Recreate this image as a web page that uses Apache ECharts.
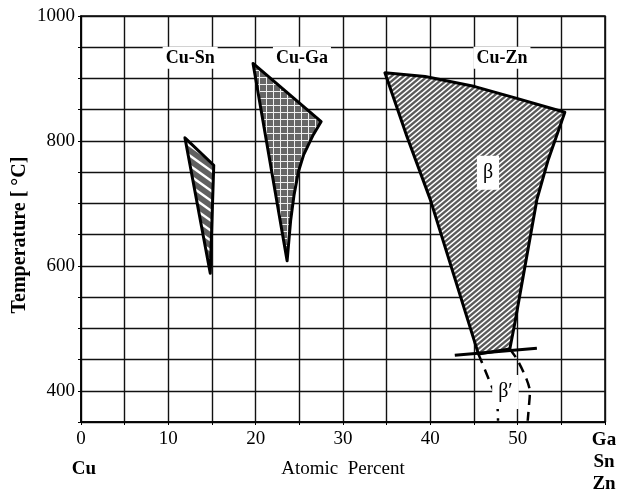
<!DOCTYPE html>
<html>
<head>
    <meta charset="UTF-8">
    <title>Cu-Sn / Cu-Ga / Cu-Zn</title>
    <script src="https://cdn.jsdelivr.net/npm/echarts@6/dist/echarts.min.js"></script>
    <style>
        html, body { margin: 0; padding: 0; background: #fff; }
        #chart { width: 620px; height: 491px; }
    </style>
</head>
<body>
<div id="chart"></div>
<script>
    // 相区边界 [原子百分比, 温度]
    var cuSn = [[11.9, 805], [15.2, 761], [14.8, 588]];
    var cuGa = [[19.7, 924], [27.5, 831], [26.6, 810], [25.5, 778], [24.9, 751],
        [24.4, 714], [24.0, 672], [23.6, 608]];
    var cuZn = [[34.8, 909], [39.4, 903], [45.1, 887], [49.7, 869], [55.4, 846],
        [53.5, 770], [52.2, 706], [49.7, 510], [49.1, 467], [45.5, 459],
        [40.0, 706], [37.3, 808]];
    var znBaseLine = [[42.8, 457], [52.2, 468]];
    var betaPrimeLeft = [[45.5, 459], [47.0, 408], [47.6, 387], [47.75, 352]];
    var betaPrimeRight = [[49.1, 467], [49.9, 451], [51.0, 419], [51.4, 398], [51.3, 377], [51.15, 352]];

    var regionNames = ['Cu-Sn', 'Cu-Ga', 'Cu-Zn'];
    var regionX = [12.5, 25.3, 48.2];
    var regionY = [933, 933, 933];
    var phaseNames = ['β', 'β′'];
    var phaseX = [46.6, 48.6];
    var phaseY = [749, 398];

    var xLabels = [0, 10, 20, 30, 40, 50];
    var yLabels = [400, 600, 800, 1000];

    var serif = '"Liberation Serif", "DejaVu Serif", serif';

    // 填充图案
    function makeStripes(w, h, down, base, lw) {
        var c = document.createElement('canvas');
        c.width = w; c.height = h;
        var ctx = c.getContext('2d');
        ctx.fillStyle = base;
        ctx.fillRect(0, 0, w, h);
        ctx.strokeStyle = '#fff';
        ctx.lineWidth = lw;
        for (var k = -1; k <= 1; k++) {
            ctx.beginPath();
            if (down) {
                ctx.moveTo(-1, k * h - h / w);
                ctx.lineTo(w + 1, k * h + h + h / w);
            } else {
                ctx.moveTo(-1, k * h + h + h / w);
                ctx.lineTo(w + 1, k * h - h / w);
            }
            ctx.stroke();
        }
        return {image: c, repeat: 'repeat'};
    }
    function makeGrid(size, base) {
        var c = document.createElement('canvas');
        c.width = size; c.height = size;
        var ctx = c.getContext('2d');
        ctx.fillStyle = base;
        ctx.fillRect(0, 0, size, size);
        ctx.fillStyle = '#f0f0f0';
        ctx.fillRect(0, 0, size, 1);
        ctx.fillRect(0, 0, 1, size);
        return {image: c, repeat: 'repeat'};
    }
    var snFill = makeStripes(14, 10, true, '#606060', 2.4);
    var gaFill = makeGrid(7, '#666666');
    var znFill = makeStripes(6, 5, false, '#5a5a5a', 1.5);

    function polygonItem(points, fill) {
        return function (params, api) {
            return {
                type: 'polygon',
                shape: {points: points.map(function (p) { return api.coord(p); })},
                style: {fill: fill, stroke: '#000', lineWidth: 3, lineJoin: 'round'}
            };
        };
    }

    function textItem(names, font, pad) {
        return function (params, api) {
            var pt = api.coord([api.value(0), api.value(1)]);
            return {
                type: 'text', x: pt[0], y: pt[1],
                style: {
                    text: names[params.dataIndex], fill: '#000', font: font,
                    align: 'center', verticalAlign: 'middle',
                    backgroundColor: '#fff', padding: pad
                }
            };
        };
    }

    var regionData = regionNames.map(function (n, i) { return [regionX[i], regionY[i]]; });
    var phaseData = phaseNames.map(function (n, i) { return [phaseX[i], phaseY[i]]; });

    var myChart = echarts.init(document.getElementById('chart'));
    var option = {
        animation: false,
        grid: {
            left: 81, right: 15, top: 16, bottom: 69,
            show: true, borderColor: '#000', borderWidth: 1.5
        },
        xAxis: {
            type: 'value', min: 0, max: 60, interval: 5,
            axisLine: {lineStyle: {color: '#000', width: 1.5}},
            axisTick: {show: true, length: 3, lineStyle: {color: '#000'}},
            splitLine: {lineStyle: {color: '#111', width: 1.4}},
            axisLabel: {
                color: '#000', fontFamily: serif, fontSize: 19, margin: 8,
                formatter: function (v) { return xLabels.indexOf(v) >= 0 ? String(v) : ''; }
            }
        },
        yAxis: {
            type: 'value', min: 350, max: 1000, interval: 50,
            axisLine: {show: true, lineStyle: {color: '#000', width: 1.5}},
            axisTick: {show: true, length: 3, lineStyle: {color: '#000'}},
            splitLine: {lineStyle: {color: '#111', width: 1.4}},
            axisLabel: {
                color: '#000', fontFamily: serif, fontSize: 19, margin: 6,
                formatter: function (v) { return yLabels.indexOf(v) >= 0 ? String(v) : ''; }
            }
        },
        graphic: [
            {
                type: 'text', x: 20, y: 235, rotation: Math.PI / 2,
                style: {
                    text: 'Temperature [ °C]', fill: '#000', font: 'bold 20px ' + serif,
                    textAlign: 'center', textVerticalAlign: 'middle'
                }
            },
            {
                type: 'text', x: 343, y: 469,
                style: {
                    text: 'Atomic  Percent', fill: '#000', font: '19px ' + serif,
                    textAlign: 'center', textVerticalAlign: 'middle'
                }
            },
            {
                type: 'text', x: 84, y: 469,
                style: {
                    text: 'Cu', fill: '#000', font: 'bold 19px ' + serif,
                    textAlign: 'center', textVerticalAlign: 'middle'
                }
            },
            {
                type: 'text', x: 604, y: 440,
                style: {
                    text: 'Ga', fill: '#000', font: 'bold 19px ' + serif,
                    textAlign: 'center', textVerticalAlign: 'middle'
                }
            },
            {
                type: 'text', x: 604, y: 462,
                style: {
                    text: 'Sn', fill: '#000', font: 'bold 19px ' + serif,
                    textAlign: 'center', textVerticalAlign: 'middle'
                }
            },
            {
                type: 'text', x: 604, y: 484,
                style: {
                    text: 'Zn', fill: '#000', font: 'bold 19px ' + serif,
                    textAlign: 'center', textVerticalAlign: 'middle'
                }
            }
        ],
        series: [
            {type: 'custom', renderItem: polygonItem(cuSn, snFill), data: [[0, 350]], silent: true, z: 3},
            {type: 'custom', renderItem: polygonItem(cuGa, gaFill), data: [[0, 350]], silent: true, z: 3},
            {type: 'custom', renderItem: polygonItem(cuZn, znFill), data: [[0, 350]], silent: true, z: 3},
            {
                type: 'line', data: znBaseLine, symbol: 'none', silent: true, z: 4,
                lineStyle: {color: '#000', width: 3}
            },
            {
                type: 'line', data: betaPrimeLeft, symbol: 'none', smooth: 0.3, silent: true, z: 4,
                lineStyle: {color: '#000', width: 2.5, type: [10, 7]}
            },
            {
                type: 'line', data: betaPrimeRight, symbol: 'none', smooth: 0.3, silent: true, z: 4,
                lineStyle: {color: '#000', width: 2.5, type: [10, 7]}
            },
            {
                type: 'custom', data: regionData, silent: true, z: 5,
                renderItem: textItem(regionNames, 'bold 18px ' + serif, [2, 3])
            },
            {
                type: 'custom', data: phaseData, silent: true, z: 5,
                renderItem: textItem(phaseNames, '20px ' + serif, [7, 6])
            }
        ]
    };
    myChart.setOption(option);
</script>
</body>
</html>
